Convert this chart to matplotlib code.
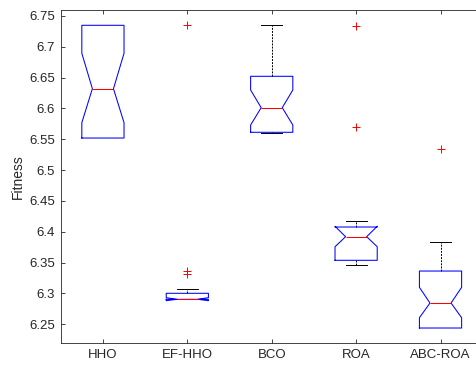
import matplotlib
matplotlib.use("Agg")
import matplotlib.pyplot as plt

# per-algorithm box statistics (fitness)
algorithms = ['HHO', 'EF-HHO', 'BCO', 'ROA', 'ABC-ROA']
q1 = [6.5521, 6.2905, 6.5614, 6.3538, 6.2440]
median = [6.6321, 6.2905, 6.6013, 6.3921, 6.2845]
q3 = [6.7349, 6.3003, 6.6522, 6.4078, 6.3364]
ci_low = [6.5770, 6.2883, 6.5732, 6.3758, 6.2607]
ci_high = [6.6895, 6.2932, 6.6300, 6.4090, 6.3100]
whisker_low = [6.5521, 6.2905, 6.5598, 6.3467, 6.2440]
whisker_high = [6.7349, 6.3068, 6.7349, 6.4170, 6.3830]
outliers = [[], [6.7349, 6.3360, 6.3320], [], [6.7343, 6.5705], [6.5348]]

plt.rcParams['font.family'] = ['Liberation Sans', 'DejaVu Sans']
axis_col = (0.15, 0.15, 0.15)

stats = []
for i, name in enumerate(algorithms):
    stats.append({
        'label': name, 'med': median[i], 'q1': q1[i], 'q3': q3[i],
        'cilo': ci_low[i], 'cihi': ci_high[i],
        'whislo': whisker_low[i], 'whishi': whisker_high[i],
        'fliers': outliers[i],
    })

fig = plt.figure(figsize=(4.77, 3.68), dpi=100)
ax = fig.add_axes([0.1273, 0.0671, 0.8847, 0.9057])

parts = ax.bxp(stats, positions=range(1, 6), widths=0.5, shownotches=True,
               boxprops=dict(color='blue', linewidth=0.75, zorder=3),
               medianprops=dict(color='red', linewidth=0.75, zorder=4),
               whiskerprops=dict(color='black', linewidth=0.7, linestyle=(0, (2, 1.2)), zorder=1.5),
               capprops=dict(color='black', linewidth=0.7, zorder=1.5),
               flierprops=dict(marker='+', markeredgecolor='red', markerfacecolor='none',
                               markersize=6, markeredgewidth=0.7, linestyle='none', zorder=5))

# caps that sit right on the box edge are hidden by the box line
for i in range(len(algorithms)):
    lo_cap, hi_cap = parts['caps'][2 * i], parts['caps'][2 * i + 1]
    if whisker_low[i] == q1[i]:
        lo_cap.set_visible(False)
    if whisker_high[i] == q3[i]:
        hi_cap.set_visible(False)

ax.set_xlim(0.5, 5.5)
ax.set_ylim(6.2192, 6.7597)
ax.set_yticks([6.25, 6.3, 6.35, 6.4, 6.45, 6.5, 6.55, 6.6, 6.65, 6.7, 6.75])
ax.set_yticklabels(['6.25', '6.3', '6.35', '6.4', '6.45', '6.5', '6.55',
                    '6.6', '6.65', '6.7', '6.75'])
ax.set_ylabel('Fitness', fontsize=10, color=axis_col, labelpad=3)

ax.tick_params(direction='in', length=3.2, width=0.6, top=True, right=True,
               labelsize=9.5, colors=axis_col, pad=4)
for sp in ax.spines.values():
    sp.set_color(axis_col)
    sp.set_linewidth(0.6)

fig.savefig('out.png', dpi=100)
